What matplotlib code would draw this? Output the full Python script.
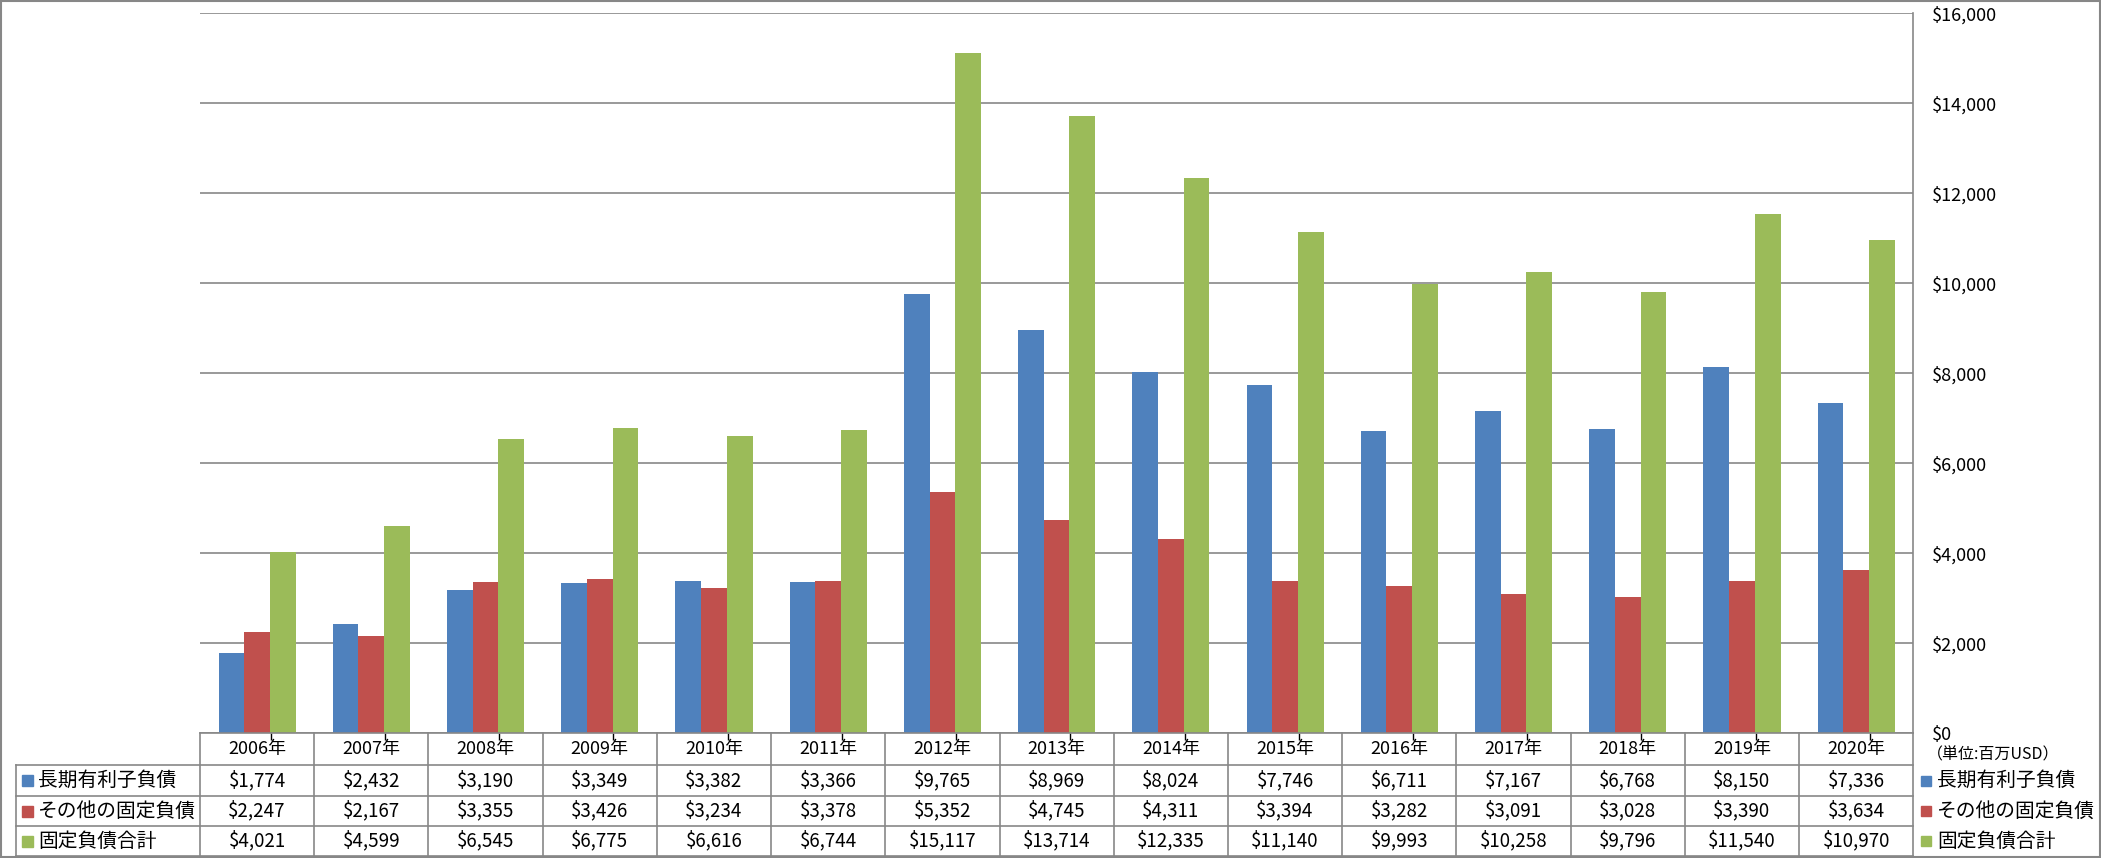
import matplotlib
matplotlib.use("Agg")
import matplotlib.pyplot as plt
import numpy as np

plt.rcParams['font.family'] = ['Noto Sans CJK JP', 'DejaVu Sans']

# ---------------- data ---------------- #
years = ["2006年", "2007年", "2008年", "2009年", "2010年", "2011年", "2012年", "2013年",
         "2014年", "2015年", "2016年", "2017年", "2018年", "2019年", "2020年"]
long_term_debt = [1774, 2432, 3190, 3349, 3382, 3366, 9765, 8969, 8024, 7746, 6711, 7167, 6768, 8150, 7336]
other_fixed = [2247, 2167, 3355, 3426, 3234, 3378, 5352, 4745, 4311, 3394, 3282, 3091, 3028, 3390, 3634]
fixed_total = [4021, 4599, 6545, 6775, 6616, 6744, 15117, 13714, 12335, 11140, 9993, 10258, 9796, 11540, 10970]
series_names = ["長期有利子負債", "その他の固定負債", "固定負債合計"]
unit_label = "（単位:百万USD）"

colors = ["#4F81BD", "#C0504D", "#9BBB59"]
GRID = "#878787"

W, H = 2101, 858
fig = plt.figure(figsize=(W / 100, H / 100), dpi=100)

# plot area in pixel coords
PL, PR, PT, PB = 200, 1913.3, 13.3, 733.3
ax = fig.add_axes([PL / W, 1 - PB / H, (PR - PL) / W, (PB - PT) / H])

series = [long_term_debt, other_fixed, fixed_total]
x = np.arange(len(years))
bw = 0.225
for k, vals in enumerate(series):
    ax.bar(x + (k - 1) * bw, vals, width=bw, color=colors[k], zorder=3)

ax.set_xlim(-0.5, len(years) - 0.5)
ax.set_ylim(0, 16000)
ax.set_yticks(np.arange(0, 16001, 2000))
ax.yaxis.tick_right()
ax.set_yticklabels(["${:,}".format(v) for v in range(0, 16001, 2000)], fontsize=13)
ax.tick_params(axis='y', length=0, pad=13.5)
ax.grid(axis='y', color=GRID, linewidth=1.2, zorder=0)
ax.set_xticks(x + 0.12)
ax.tick_params(axis='x', length=5, width=1, color='black', labelbottom=False, direction='out')
for s in ["left", "top", "bottom"]:
    ax.spines[s].set_visible(False)
ax.spines["right"].set_color(GRID)
ax.spines["right"].set_linewidth(1.2)

# ---------------- data table ---------------- #
tab = fig.add_axes([0, 0, 1, 1], zorder=5)
tab.set_xlim(0, W)
tab.set_ylim(H, 0)
tab.axis("off")
tab.patch.set_visible(False)

col_w = (PR - PL) / len(years)
row_y = [733.3, 765, 796, 826, 856]
TL = 16

# horizontal lines
tab.plot([PL, PR], [row_y[0], row_y[0]], color=GRID, lw=1.2)
for yy in row_y[1:]:
    tab.plot([TL, PR], [yy, yy], color=GRID, lw=1.2)
# vertical lines
tab.plot([TL, TL], [row_y[1], row_y[4]], color=GRID, lw=1.2)
for i in range(len(years) + 1):
    xx = PL + i * col_w
    tab.plot([xx, xx], [row_y[0], row_y[4]], color=GRID, lw=1.2)

for i, yr in enumerate(years):
    cx = PL + (i + 0.5) * col_w
    tab.text(cx, (row_y[0] + row_y[1]) / 2, yr, ha="center", va="center", fontsize=13)
    for k, vals in enumerate(series):
        cy = (row_y[k + 1] + row_y[k + 2]) / 2
        tab.text(cx, cy, "${:,}".format(vals[i]), ha="center", va="center", fontsize=13.5)

for k, name in enumerate(series_names):
    cy = (row_y[k + 1] + row_y[k + 2]) / 2
    tab.add_patch(plt.Rectangle((22, cy - 5.5), 11, 11, color=colors[k]))
    tab.text(38, cy, name, ha="left", va="center", fontsize=14.2)
    # right-hand legend
    tab.add_patch(plt.Rectangle((1921, cy - 5), 10, 10, color=colors[k]))
    tab.text(1937, cy, name, ha="left", va="center", fontsize=14.2)

tab.text(1927, 755, unit_label, ha="left", va="center", fontsize=11.5)

# outer border
tab.add_patch(plt.Rectangle((1, 1), W - 2.5, 855.5, fill=False, edgecolor=GRID, lw=1.5))

fig.savefig("out.png", dpi=100)
